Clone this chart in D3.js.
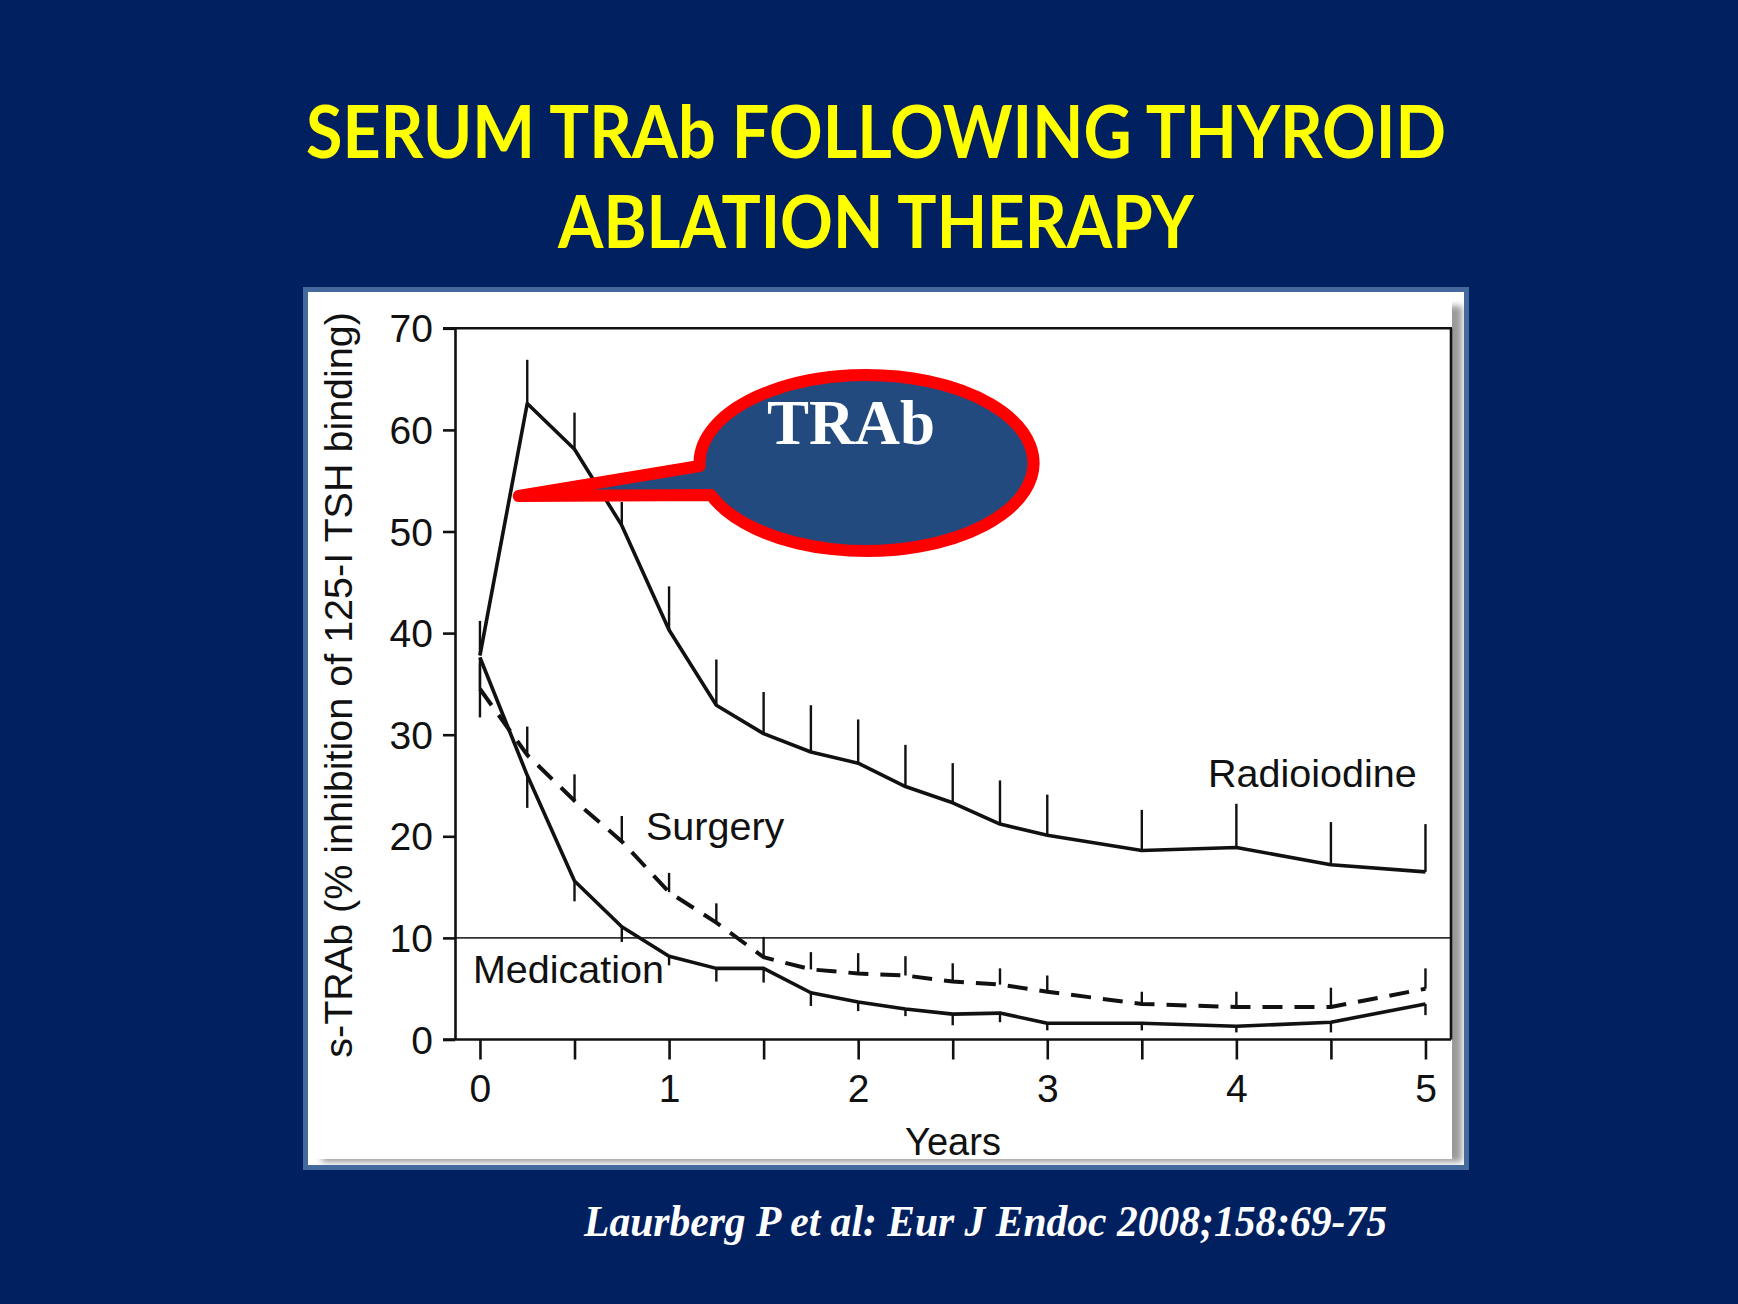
<!DOCTYPE html>
<html>
<head>
<meta charset="utf-8">
<script src="https://cdn.jsdelivr.net/npm/d3@7"></script>
<style>
  html, body { margin: 0; padding: 0; background: #002060; }
  svg { display: block; }
</style>
</head>
<body>
<svg id="chart" width="1738" height="1304"></svg>
<script>
// ---------- data ----------
const titleLines = ["SERUM TRAb FOLLOWING THYROID", "ABLATION THERAPY"];
const citation = "Laurberg P et al: Eur J Endoc 2008;158:69-75";
const yAxisTitle = "s-TRAb (% inhibition of 125-I TSH binding)";
const xAxisTitle = "Years";
const calloutText = "TRAb";

const years = [0, 0.25, 0.5, 0.75, 1, 1.25, 1.5, 1.75, 2, 2.25, 2.5, 2.75, 3, 3.5, 4, 4.5, 5];
const radioiodine      = [37.8, 62.6, 58.1, 50.6, 40.3, 32.9, 30.1, 28.3, 27.2, 24.9, 23.3, 21.2, 20.1, 18.6, 18.9, 17.2, 16.5];
const radioiodineUpper = [41.2, 66.9, 61.7, 52.9, 44.6, 37.4, 34.2, 32.9, 31.5, 29.0, 27.2, 25.5, 24.1, 22.6, 23.2, 21.4, 21.2];
const surgery          = [34.5, 28.0, 23.5, 19.5, 14.5, 11.5, 8.1, 6.9, 6.5, 6.3, 5.7, 5.4, 4.7, 3.5, 3.2, 3.2, 5.0];
const surgeryUpper     = [37.0, 30.8, 26.1, 22.0, 16.4, 13.4, 10.1, 8.6, 8.5, 8.2, 7.5, 7.0, 6.3, 4.7, 4.7, 5.1, 7.0];
const medication       = [37.6, 26.0, 15.6, 11.1, 8.2, 7.0, 7.0, 4.6, 3.7, 3.0, 2.5, 2.6, 1.6, 1.6, 1.3, 1.7, 3.5];
const medicationLower  = [31.7, 22.8, 13.6, 9.6, 7.3, 5.7, 5.6, 3.3, 2.8, 2.3, 1.4, 1.7, 0.9, 0.9, 0.7, 0.7, 2.4];

const xTickValues = [0, 0.5, 1, 1.5, 2, 2.5, 3, 3.5, 4, 4.5, 5];
const xTickLabels = ["0", "", "1", "", "2", "", "3", "", "4", "", "5"];
const yTickValues = [0, 10, 20, 30, 40, 50, 60, 70];
const referenceLevel = 10;
const seriesLabels = [
  {name: "Radioiodine", x: 3.85, y: 24.9},
  {name: "Surgery", x: 0.878, y: 19.6},
  {name: "Medication", x: -0.037, y: 5.6}
];
// ---------- drawing ----------
const svg = d3.select("#chart");
const FONT = "'Liberation Sans', Arial, Helvetica, sans-serif";

// background
svg.append("rect").attr("width", 1738).attr("height", 1304).attr("fill", "#002060");

// titles
const titleX = [306, 558], titleW = [1140, 636], titleY = [158, 248];
titleLines.forEach((t, i) => {
  svg.append("text").text(t)
    .attr("x", titleX[i]).attr("y", titleY[i])
    .attr("textLength", titleW[i]).attr("lengthAdjust", "spacingAndGlyphs")
    .attr("font-family", "Lato, 'Open Sans', sans-serif")
    .attr("font-weight", 700).attr("font-size", 73).attr("fill", "#ffff00");
});

// panel
const defs = svg.append("defs");
defs.append("filter").attr("id", "blur").attr("x", "-10%").attr("y", "-10%").attr("width", "120%").attr("height", "120%")
  .append("feGaussianBlur").attr("stdDeviation", 3);
svg.append("rect").attr("x", 308).attr("y", 292).attr("width", 1157).attr("height", 873).attr("fill", "#ffffff");
svg.append("rect").attr("x", 322).attr("y", 306).attr("width", 1140).attr("height", 856)
  .attr("fill", "#9a9a9a").attr("filter", "url(#blur)");
svg.append("rect").attr("x", 308).attr("y", 292).attr("width", 1144).attr("height", 867).attr("fill", "#ffffff");
svg.append("rect").attr("x", 305.5).attr("y", 289.5).attr("width", 1161).attr("height", 878)
  .attr("fill", "none").attr("stroke", "#44699c").attr("stroke-width", 5);

// scales
const x = d3.scaleLinear().domain([-0.132, 5.135]).range([455, 1451]);
const y = d3.scaleLinear().domain([0, 70]).range([1039.5, 328.3]);
const [x0, x1] = x.range();
const [y0, y1] = y.range();

const g = svg.append("g");

// reference line at 10
g.append("line").attr("x1", x0).attr("x2", x1).attr("y1", y(referenceLevel)).attr("y2", y(referenceLevel))
  .attr("stroke", "#333").attr("stroke-width", 1.6);

// axes
const yAxis = d3.axisLeft(y).tickValues(yTickValues).tickSize(12).tickSizeOuter(0).tickPadding(10);
const yg = g.append("g").attr("transform", `translate(${x0},0)`).call(yAxis);
const xAxis = d3.axisBottom(x).tickValues(xTickValues).tickSize(20).tickSizeOuter(0)
  .tickFormat((d, i) => xTickLabels[i]);
const xg = g.append("g").attr("transform", `translate(0,${y0})`).call(xAxis);
[yg, xg].forEach(a => {
  a.selectAll("path.domain").attr("stroke", "#111").attr("stroke-width", 2.6);
  a.selectAll(".tick line").attr("stroke", "#111").attr("stroke-width", 2.6);
  a.selectAll("text").attr("font-family", FONT).attr("font-size", 39).attr("fill", "#111");
});
yg.selectAll("text").attr("dy", "0.35em");
xg.selectAll("text").attr("dy", null).attr("y", 62);
// x-axis line extends to y tick
xg.select("path.domain").attr("d", `M${x0 - 12},0H${x1}`);
// top & right frame
g.append("line").attr("x1", x0 - 12).attr("x2", x1 + 1).attr("y1", y1).attr("y2", y1).attr("stroke", "#111").attr("stroke-width", 2.6);
g.append("line").attr("x1", x1).attr("x2", x1).attr("y1", y1).attr("y2", y0).attr("stroke", "#111").attr("stroke-width", 2.6);

// axis titles
g.append("text").text(yAxisTitle)
  .attr("transform", `translate(352,${(y0 + y1) / 2 + 1}) rotate(-90)`)
  .attr("text-anchor", "middle").attr("font-family", FONT).attr("font-size", 39.5).attr("fill", "#111");
g.append("text").text(xAxisTitle)
  .attr("x", (x0 + x1) / 2).attr("y", 1155).attr("text-anchor", "middle")
  .attr("font-family", FONT).attr("font-size", 38).attr("fill", "#111");

// error bars
function bars(vals, ends) {
  g.append("g").selectAll("line").data(years).join("line")
    .attr("x1", d => x(d)).attr("x2", d => x(d))
    .attr("y1", (d, i) => y(vals[i])).attr("y2", (d, i) => y(ends[i]))
    .attr("stroke", "#111").attr("stroke-width", 2.4);
}
bars(radioiodine, radioiodineUpper);
bars(surgery, surgeryUpper);
bars(medication, medicationLower);

// lines
const line = vals => d3.line().x(d => x(d)).y((d, i) => y(vals[i]))(years);
g.append("path").attr("d", line(radioiodine)).attr("fill", "none").attr("stroke", "#111").attr("stroke-width", 3.6).attr("stroke-linejoin", "round");
g.append("path").attr("d", line(medication)).attr("fill", "none").attr("stroke", "#111").attr("stroke-width", 3.6).attr("stroke-linejoin", "round");
g.append("path").attr("d", line(surgery)).attr("fill", "none").attr("stroke", "#111").attr("stroke-width", 4)
  .attr("stroke-dasharray", "20 12");

// series labels
seriesLabels.forEach(s => {
  g.append("text").text(s.name).attr("x", x(s.x)).attr("y", y(s.y))
    .attr("font-family", FONT).attr("font-size", 39.5).attr("fill", "#111");
});

// callout
const cx = 866.5, cy = 463, rx = 167, ry = 88;
const tip = [x(0.205), y(53.5)];
const upY = 466, loY = 495;
const upX = cx - rx * Math.sqrt(1 - ((upY - cy) / ry) ** 2);
const loX = cx - rx * Math.sqrt(1 - ((loY - cy) / ry) ** 2);
const cpath = `M${upX},${upY} L${tip[0]},${tip[1]} L${loX},${loY} A${rx},${ry} 0 1 0 ${upX},${upY} Z`;
svg.append("path").attr("d", cpath).attr("fill", "#234a7e").attr("stroke", "#ff0000")
  .attr("stroke-width", 12).attr("stroke-linejoin", "round");
svg.append("text").text(calloutText).attr("x", 851).attr("y", 444).attr("text-anchor", "middle")
  .attr("font-family", "'Liberation Serif', 'Times New Roman', serif").attr("font-weight", 700)
  .attr("font-size", 63).attr("fill", "#ffffff");

// citation
svg.append("text").text(citation).attr("x", 584).attr("y", 1236)
  .attr("textLength", 803).attr("lengthAdjust", "spacingAndGlyphs")
  .attr("font-family", "'Liberation Serif', 'Times New Roman', serif").attr("font-weight", 700)
  .attr("font-style", "italic").attr("font-size", 44).attr("fill", "#ffffff");
</script>
</body>
</html>
